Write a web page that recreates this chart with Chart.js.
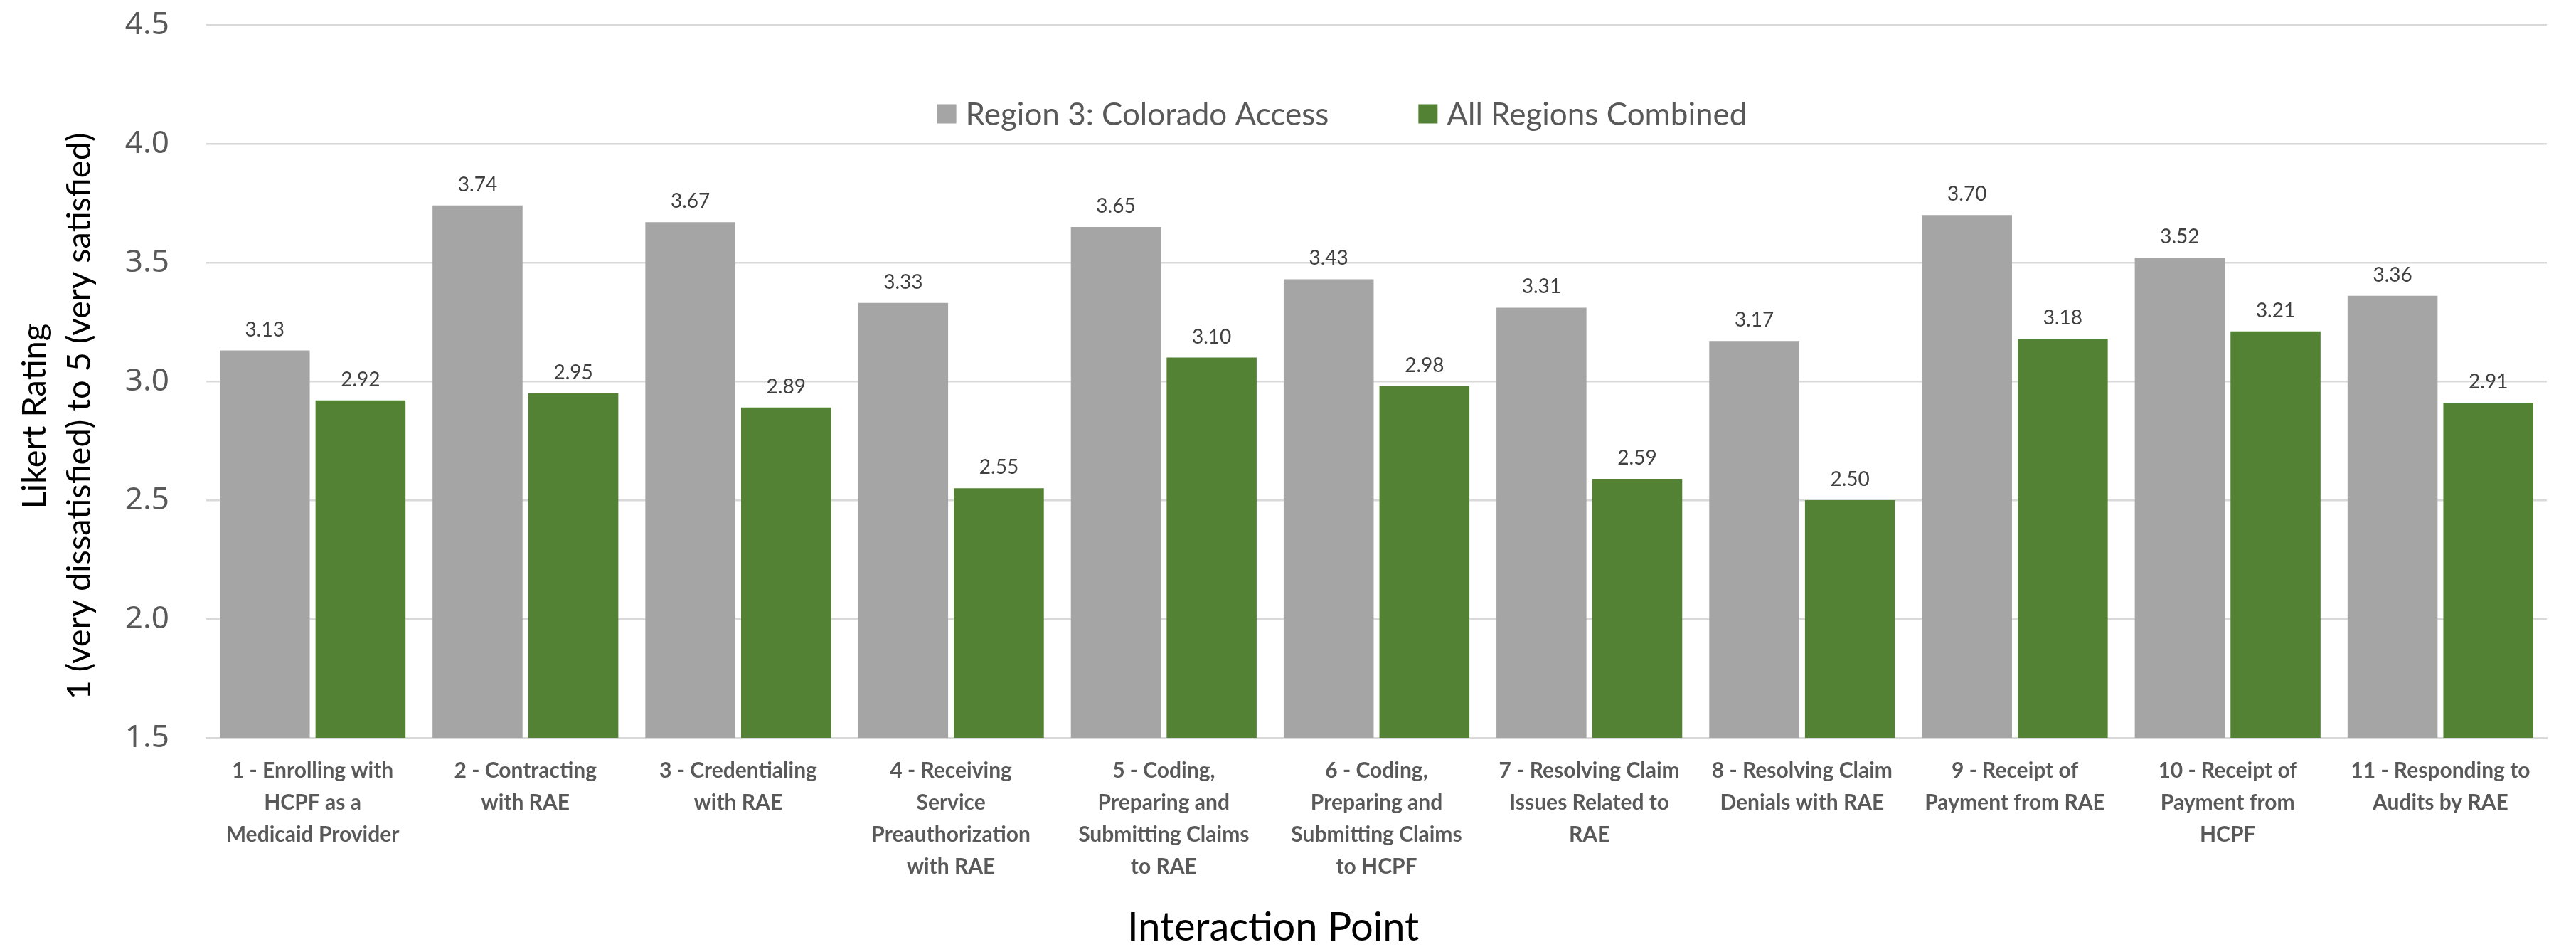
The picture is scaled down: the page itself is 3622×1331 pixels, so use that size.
<!DOCTYPE html>
<html>
<head>
<meta charset="utf-8">
<title>Likert Rating by Interaction Point</title>
<script src="https://cdn.jsdelivr.net/npm/chart.js@4.4.0/dist/chart.umd.min.js"></script>
<style>
  body { margin: 0; background: #fff; }
  canvas { display: block; }
</style>
</head>
<body>
<canvas id="likertChart" width="3622" height="1331"></canvas>
<script>
// interaction points, one label line per array entry
const categories = [
  ["1 - Enrolling with", "HCPF as a", "Medicaid Provider"],
  ["2 - Contracting", "with RAE"],
  ["3 - Credentialing", "with RAE"],
  ["4 - Receiving", "Service", "Preauthorization", "with RAE"],
  ["5 - Coding,", "Preparing and", "Submitting Claims", "to RAE"],
  ["6 - Coding,", "Preparing and", "Submitting Claims", "to HCPF"],
  ["7 - Resolving Claim", "Issues Related to", "RAE"],
  ["8 - Resolving Claim", "Denials with RAE"],
  ["9 - Receipt of", "Payment from RAE"],
  ["10 - Receipt of", "Payment from", "HCPF"],
  ["11 - Responding to", "Audits by RAE"]
];

const region3Scores = [3.13, 3.74, 3.67, 3.33, 3.65, 3.43, 3.31, 3.17, 3.70, 3.52, 3.36];
const allRegionsScores = [2.92, 2.95, 2.89, 2.55, 3.10, 2.98, 2.59, 2.50, 3.18, 3.21, 2.91];

const yMin = 1.5;
const yMax = 4.5;
const yStep = 0.5;

const textFont = "Lato, 'Open Sans', sans-serif";

// value labels above each bar
const valueLabels = {
  id: 'valueLabels',
  afterDatasetsDraw(chart) {
    const ctx = chart.ctx;
    ctx.save();
    ctx.font = '28px ' + textFont;
    ctx.fillStyle = '#404040';
    ctx.textAlign = 'center';
    ctx.textBaseline = 'alphabetic';
    chart.data.datasets.forEach((ds, i) => {
      chart.getDatasetMeta(i).data.forEach((bar, j) => {
        ctx.fillText(ds.data[j].toFixed(2), bar.x, bar.y - 20);
      });
    });
    ctx.restore();
  }
};

// legend row inside the plot, between the 4.5 and 4.0 gridlines
const topLegend = {
  id: 'topLegend',
  afterDraw(chart) {
    const ctx = chart.ctx;
    const box = 27, textGap = 13, itemGap = 126;
    const centerX = 1887, centerY = 160;
    ctx.save();
    ctx.font = '44px ' + textFont;
    ctx.textBaseline = 'middle';
    const items = chart.data.datasets.map(ds => ({
      label: ds.label,
      color: ds.backgroundColor,
      w: box + textGap + ctx.measureText(ds.label).width
    }));
    const total = items.reduce((s, it) => s + it.w, 0) + itemGap * (items.length - 1);
    let x = centerX - total / 2;
    items.forEach(it => {
      ctx.fillStyle = it.color;
      ctx.fillRect(x, centerY - box / 2, box, box);
      ctx.fillStyle = '#595959';
      ctx.fillText(it.label, x + box + textGap, centerY + 2);
      x += it.w + itemGap;
    });
    ctx.restore();
  }
};

// axis titles
const axisTitles = {
  id: 'axisTitles',
  afterDraw(chart) {
    const ctx = chart.ctx;
    ctx.save();
    ctx.fillStyle = '#000';
    ctx.textAlign = 'center';
    ctx.textBaseline = 'middle';
    ctx.font = '47px ' + textFont;
    ctx.save();
    ctx.translate(49, 585);
    ctx.rotate(-Math.PI / 2);
    ctx.fillText('Likert Rating', 0, 0);
    ctx.fillText('1 (very dissatisfied) to 5 (very satisfied)', 0, 63);
    ctx.restore();
    ctx.font = '56px ' + textFont;
    ctx.fillText('Interaction Point', 1790, 1304);
    ctx.restore();
  }
};

new Chart(document.getElementById('likertChart'), {
  type: 'bar',
  data: {
    labels: categories,
    datasets: [
      {
        label: 'Region 3: Colorado Access',
        data: region3Scores,
        backgroundColor: '#A5A5A5',
        categoryPercentage: 0.9,
        barPercentage: 0.94
      },
      {
        label: 'All Regions Combined',
        data: allRegionsScores,
        backgroundColor: '#548235',
        categoryPercentage: 0.9,
        barPercentage: 0.94
      }
    ]
  },
  options: {
    responsive: false,
    animation: false,
    layout: { padding: { top: 35, right: 41, left: 0, bottom: 0 } },
    plugins: {
      legend: { display: false },
      tooltip: { enabled: false }
    },
    scales: {
      x: {
        grid: { display: false, drawTicks: false },
        border: { display: true, color: '#D9D9D9', width: 3 },
        ticks: {
          padding: 24,
          color: '#595959',
          maxRotation: 0,
          autoSkip: false,
          font: { family: textFont, size: 30, weight: 'bold', lineHeight: '45px' }
        },
        afterFit(scale) { scale.height = 294; }
      },
      y: {
        min: yMin,
        max: yMax,
        // invisible tick marks keep the labels away from the plot
        grid: { color: '#D9D9D9', lineWidth: 2.5, drawTicks: true, tickLength: 52, tickColor: 'rgba(0,0,0,0)' },
        border: { display: false },
        ticks: {
          stepSize: yStep,
          padding: 0,
          color: '#595959',
          font: { family: "'Noto Sans', sans-serif", size: 44 },
          callback: v => v.toFixed(1)
        },
        afterFit(scale) { scale.width = 290; }
      }
    }
  },
  plugins: [valueLabels, topLegend, axisTitles]
});
</script>
</body>
</html>
